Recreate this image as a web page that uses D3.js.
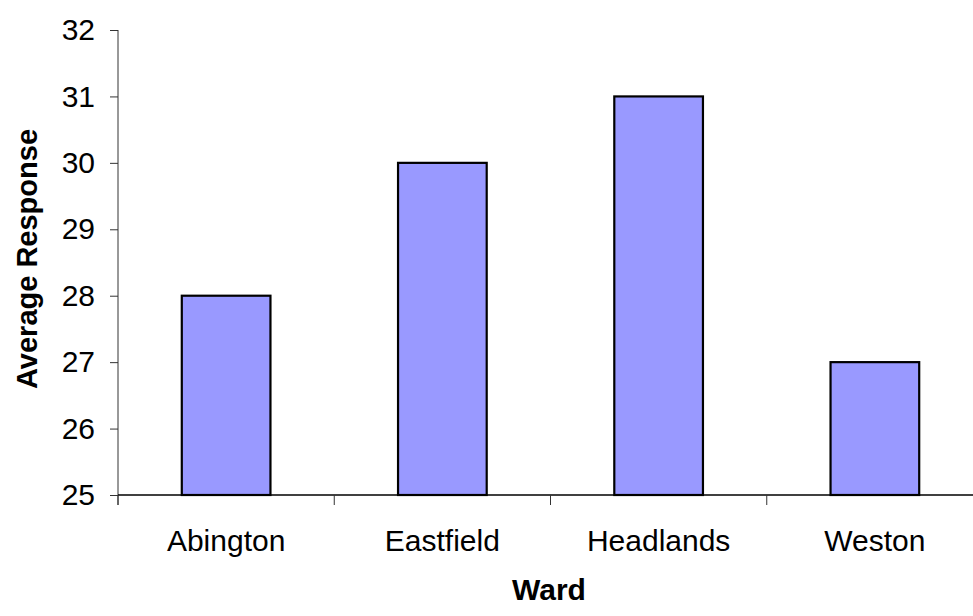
<!DOCTYPE html>
<html>
<head>
<meta charset="utf-8">
<script src="https://cdn.jsdelivr.net/npm/d3@7"></script>
<style>
  html, body { margin: 0; padding: 0; background: #fff; }
  svg { display: block; }
  text { font-family: "Liberation Sans", Arial, sans-serif; fill: #000; }
</style>
</head>
<body>
<svg id="chart" width="973" height="616"></svg>
<script>
// Average response per ward
const wards = ["Abington", "Eastfield", "Headlands", "Weston"];
const averageResponse = [28, 30, 31, 27];
const yTicks = [25, 26, 27, 28, 29, 30, 31, 32];
const xTitle = "Ward";
const yTitle = "Average Response";

const svg = d3.select("#chart");
const W = 973, H = 616;
const plotLeft = 118, plotRight = 983, plotTop = 30, plotBottom = 495;

const x = d3.scaleBand()
  .domain(wards)
  .range([plotLeft, plotRight])
  .paddingInner(0.59)
  .paddingOuter(0.295);

const y = d3.scaleLinear()
  .domain([25, 32])
  .range([plotBottom, plotTop]);

const step = x.step();
const boundary = d => x(d) - step * x.paddingInner() / 2;

// Bars
svg.append("g")
  .selectAll("rect")
  .data(wards)
  .join("rect")
  .attr("x", d => x(d))
  .attr("y", (d, i) => y(averageResponse[i]))
  .attr("width", x.bandwidth())
  .attr("height", (d, i) => y(25) - y(averageResponse[i]))
  .attr("fill", "#9999ff")
  .attr("stroke", "#000")
  .attr("stroke-width", 2.2);

// Y axis
const yAxis = svg.append("g").attr("transform", `translate(${plotLeft},0)`)
  .call(d3.axisLeft(y).tickValues(yTicks).tickFormat(d3.format("d")).tickSize(8).tickPadding(15));
yAxis.select(".domain").remove();
yAxis.selectAll(".tick line").attr("stroke", "#333");
yAxis.selectAll(".tick text")
  .style("font-size", "30px")
  .style("font-family", "'Liberation Sans', Arial, sans-serif")
  .attr("fill", "#000");
yAxis.append("line")
  .attr("x1", 0).attr("x2", 0)
  .attr("y1", y(32)).attr("y2", plotBottom + 10)
  .attr("stroke", "#333").attr("stroke-width", 1);

// X axis: line, category boundary ticks, labels
const xg = svg.append("g");
xg.append("line")
  .attr("x1", plotLeft).attr("x2", W)
  .attr("y1", plotBottom).attr("y2", plotBottom)
  .attr("stroke", "#000").attr("stroke-width", 1.5);
xg.selectAll("line.tk")
  .data(wards)
  .join("line")
  .attr("class", "tk")
  .attr("x1", d => boundary(d)).attr("x2", d => boundary(d))
  .attr("y1", plotBottom).attr("y2", plotBottom + 10)
  .attr("stroke", "#333");
xg.selectAll("text")
  .data(wards)
  .join("text")
  .attr("x", d => x(d) + x.bandwidth() / 2)
  .attr("y", 551)
  .attr("text-anchor", "middle")
  .style("font-size", "30px")
  .text(d => d);

// Axis titles
svg.append("text")
  .attr("x", 549)
  .attr("y", 600)
  .attr("text-anchor", "middle")
  .style("font-size", "30px")
  .style("font-weight", "bold")
  .text(xTitle);

svg.append("text")
  .attr("transform", "translate(37,259) rotate(-90)")
  .attr("text-anchor", "middle")
  .style("font-size", "29px")
  .style("font-weight", "bold")
  .text(yTitle);
</script>
</body>
</html>
